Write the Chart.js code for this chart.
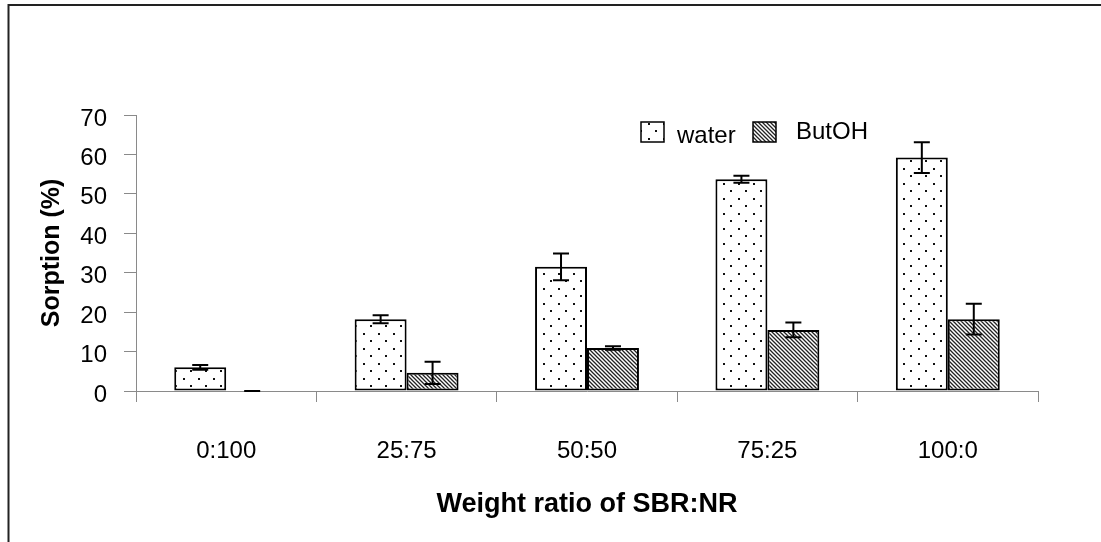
<!DOCTYPE html>
<html>
<head>
<meta charset="utf-8">
<script src="https://cdn.jsdelivr.net/npm/chart.js@4"></script>
<style>
  body { margin: 0; background: #fff; }
  #wrap { width: 1101px; height: 542px; }
</style>
</head>
<body>
<div id="wrap"><canvas id="sorptionChart" width="1101" height="542"></canvas></div>
<script>
const ratios = ['0:100', '25:75', '50:50', '75:25', '100:0'];
const water = [6.0, 18.2, 31.5, 53.7, 59.2];
const waterErr = [0.6, 1.0, 3.4, 0.9, 3.9];
const butoh = [0, 4.6, 10.9, 15.5, 18.2];
const butohErr = [0, 2.8, 0.45, 1.85, 3.9];
const yTicks = [0, 10, 20, 30, 40, 50, 60, 70];

const FONT = 'Arial, "Liberation Sans", sans-serif';
const AXIS_GRAY = '#8a8a8a';

// sparse staggered dots
function dotPattern() {
    const c = document.createElement('canvas');
    c.width = 15; c.height = 15;
    const g = c.getContext('2d');
    g.fillStyle = '#fff';
    g.fillRect(0, 0, 15, 15);
    g.fillStyle = '#111';
    g.fillRect(3, 3, 2, 2);
    g.fillRect(10, 10, 2, 2);
    return g.createPattern(c, 'repeat');
}

// dense backward diagonal hatch
function hatchPattern() {
    const s = 4;
    const c = document.createElement('canvas');
    c.width = s; c.height = s;
    const g = c.getContext('2d');
    g.fillStyle = '#fff';
    g.fillRect(0, 0, s, s);
    g.strokeStyle = '#222';
    g.lineWidth = 1.3;
    g.beginPath();
    g.moveTo(-1, -1); g.lineTo(s + 1, s + 1);
    g.moveTo(-1, s - 1); g.lineTo(1, s + 1);
    g.moveTo(s - 1, -1); g.lineTo(s + 1, 1);
    g.stroke();
    return g.createPattern(c, 'repeat');
}

const errors = [waterErr, butohErr];

const frame = {
    id: 'frame',
    beforeDraw(chart) {
        const ctx = chart.ctx;
        ctx.save();
        ctx.fillStyle = '#fff';
        ctx.fillRect(0, 0, chart.width, chart.height);
        ctx.strokeStyle = '#222';
        ctx.lineWidth = 2;
        ctx.beginPath();
        ctx.moveTo(8.5, chart.height);
        ctx.lineTo(8.5, 5);
        ctx.lineTo(chart.width, 5);
        ctx.stroke();
        ctx.restore();
    }
};

const errorBars = {
    id: 'errorBars',
    afterDatasetsDraw(chart) {
        const ctx = chart.ctx;
        const y = chart.scales.y;
        ctx.save();
        ctx.strokeStyle = '#000';
        ctx.lineWidth = 2;
        chart.data.datasets.forEach((ds, di) => {
            chart.getDatasetMeta(di).data.forEach((bar, i) => {
                const v = ds.data[i], e = errors[di][i];
                const top = y.getPixelForValue(v + e);
                const bot = y.getPixelForValue(v - e);
                ctx.beginPath();
                ctx.moveTo(bar.x, top); ctx.lineTo(bar.x, bot);
                ctx.moveTo(bar.x - 8, top); ctx.lineTo(bar.x + 8, top);
                ctx.moveTo(bar.x - 8, bot); ctx.lineTo(bar.x + 8, bot);
                ctx.stroke();
            });
        });
        ctx.restore();
    }
};

const boxLegend = {
    id: 'boxLegend',
    afterDraw(chart) {
        const ctx = chart.ctx;
        const items = [
            { box: 641, text: 677, base: 143 },
            { box: 753, text: 796, base: 139 }
        ];
        ctx.save();
        ctx.font = '24px ' + FONT;
        ctx.textBaseline = 'alphabetic';
        chart.data.datasets.forEach((ds, i) => {
            const it = items[i];
            ctx.fillStyle = ds.backgroundColor;
            ctx.fillRect(it.box, 122, 23, 20);
            ctx.strokeStyle = '#000';
            ctx.lineWidth = 1.5;
            ctx.strokeRect(it.box, 122, 23, 20);
            ctx.fillStyle = '#000';
            ctx.fillText(ds.label, it.text, it.base);
        });
        ctx.restore();
    }
};

new Chart(document.getElementById('sorptionChart'), {
    type: 'bar',
    data: {
        labels: ratios,
        datasets: [
            { label: 'water', data: water, backgroundColor: dotPattern() },
            { label: 'ButOH', data: butoh, backgroundColor: hatchPattern() }
        ]
    },
    options: {
        responsive: false,
        animation: false,
        devicePixelRatio: 1,
        layout: { padding: { top: 115, right: 63, left: 0, bottom: 0 } },
        datasets: {
            bar: {
                borderColor: '#000',
                borderWidth: 2,
                borderSkipped: false,
                categoryPercentage: 0.576,
                barPercentage: 1
            }
        },
        plugins: {
            legend: { display: false },
            tooltip: { enabled: false }
        },
        scales: {
            x: {
                afterFit: s => { s.height = 151; },
                grid: { offset: true, drawOnChartArea: false, tickLength: 11, color: AXIS_GRAY, lineWidth: 1 },
                border: { color: AXIS_GRAY, width: 1 },
                ticks: { color: '#000', padding: 35, font: { family: FONT, size: 24 } },
                title: {
                    display: true,
                    text: 'Weight ratio of SBR:NR',
                    color: '#000',
                    padding: { top: 0, bottom: 21 },
                    font: { family: FONT, size: 27, weight: 'bold' }
                }
            },
            y: {
                min: 0,
                max: 70,
                afterFit: s => { s.width = 136; },
                afterBuildTicks: s => { s.ticks = yTicks.map(v => ({ value: v })); },
                grid: { drawOnChartArea: false, tickLength: 12, color: AXIS_GRAY, lineWidth: 1 },
                border: { color: AXIS_GRAY, width: 1 },
                ticks: { color: '#000', padding: 17, labelOffset: 4, font: { family: FONT, size: 24 } },
                title: {
                    display: true,
                    text: 'Sorption (%)',
                    color: '#000',
                    padding: { top: 37, bottom: 0 },
                    font: { family: FONT, size: 25, weight: 'bold' }
                }
            }
        }
    },
    plugins: [frame, errorBars, boxLegend]
});
</script>
</body>
</html>
